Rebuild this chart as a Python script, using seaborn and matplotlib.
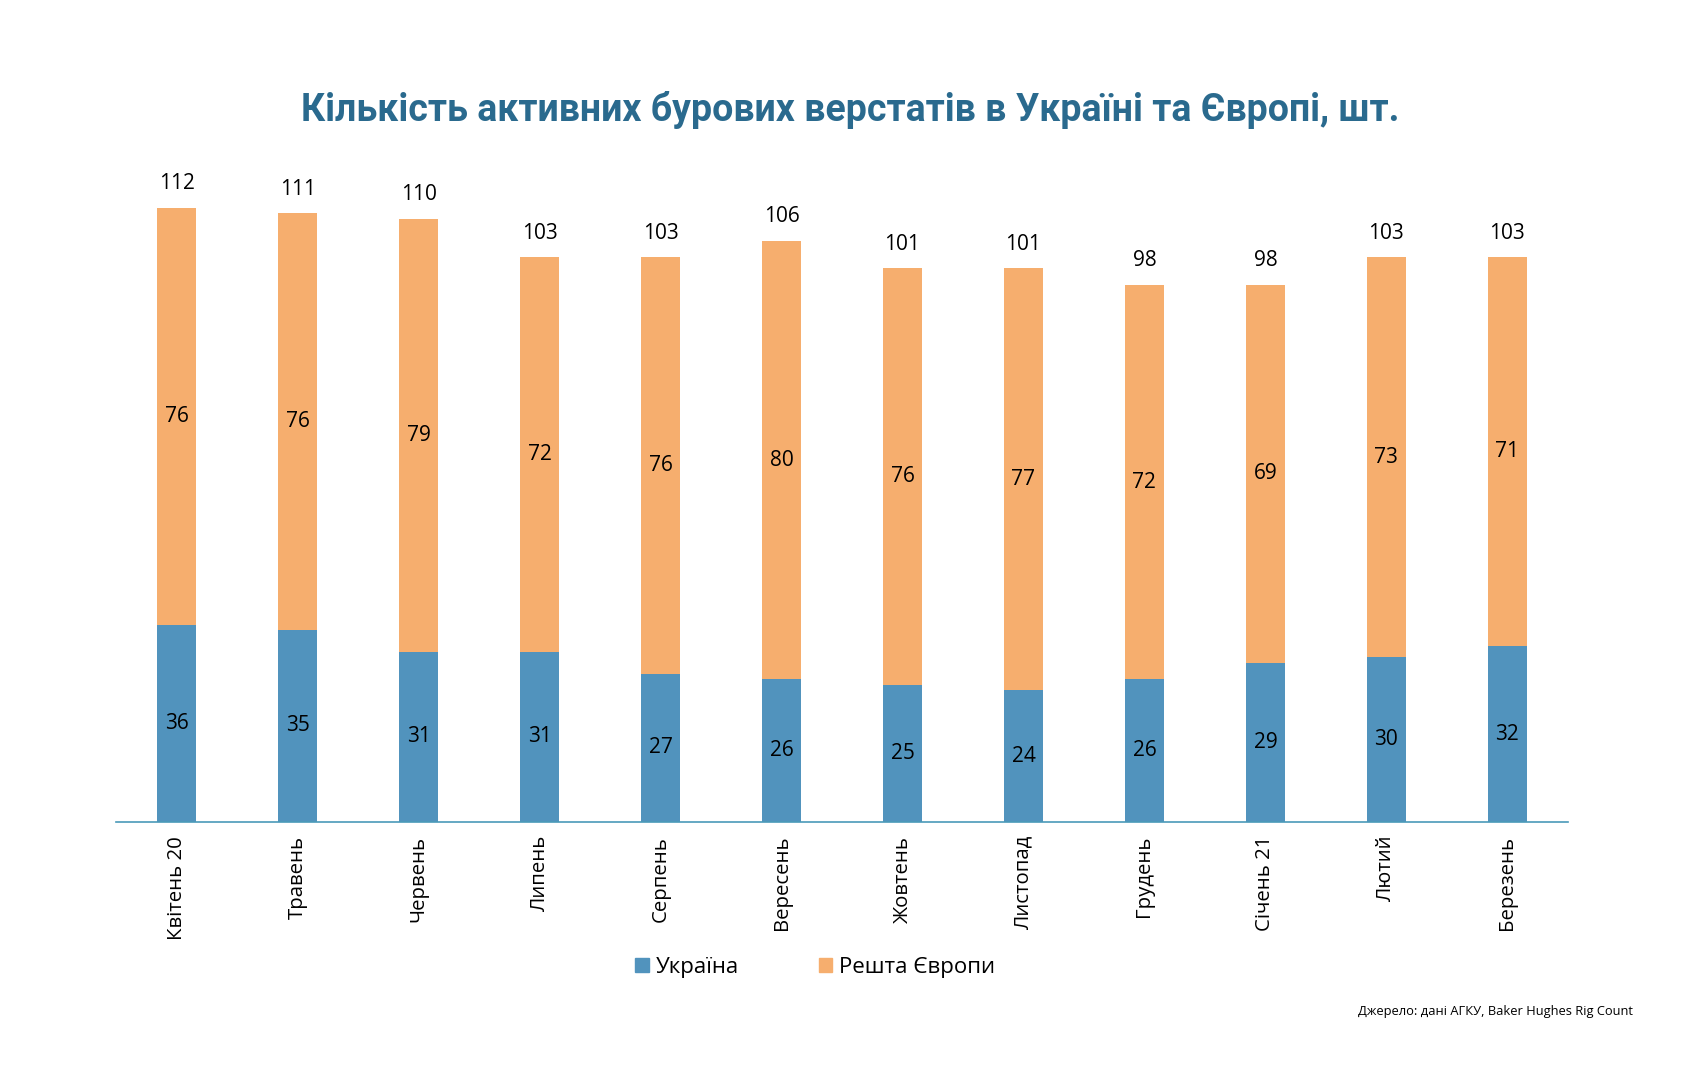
import pandas as pd
import seaborn as sns
import matplotlib.pyplot as plt
from matplotlib.patches import Patch

# DATA
months = ['Квітень 20', 'Травень', 'Червень', 'Липень', 'Серпень', 'Вересень',
          'Жовтень', 'Листопад', 'Грудень', 'Січень 21', 'Лютий', 'Березень']
ukraine = [36, 35, 31, 31, 27, 26, 25, 24, 26, 29, 30, 32]
rest_europe = [76, 76, 79, 72, 76, 80, 76, 77, 72, 69, 73, 71]
totals = [112, 111, 110, 103, 103, 106, 101, 101, 98, 98, 103, 103]

BLUE = '#5193bd'
ORANGE = '#f6ae6e'

df = pd.DataFrame({'month': months, 'ukraine': ukraine, 'rest': rest_europe, 'total': totals})

sns.set_style('white')
plt.rcParams['font.family'] = ['Open Sans', 'DejaVu Sans']
plt.rcParams['text.color'] = 'black'
plt.rcParams['xtick.color'] = 'black'

fig = plt.figure(figsize=(16.84, 10.8), dpi=100)
ax = fig.add_axes([0.069, 0.239, 0.862, 0.609])

# stacked: totals in orange, Ukraine drawn over them in blue
sns.barplot(data=df, x='month', y='total', color=ORANGE, width=0.32, saturation=1, linewidth=0, ax=ax)
sns.barplot(data=df, x='month', y='ukraine', color=BLUE, width=0.32, saturation=1, linewidth=0, ax=ax)

for i, row in df.iterrows():
    ax.text(i, row.ukraine / 2, str(row.ukraine), ha='center', va='center', fontsize=15)
    ax.text(i, row.ukraine + row.rest / 2, str(row.rest), ha='center', va='center', fontsize=15)
    ax.text(i, row.total + 2.5, str(row.total), ha='center', va='bottom', fontsize=15)

ax.set_xlim(-0.5, 11.5)
ax.set_ylim(0, 120)
ax.set_yticks([])
ax.set_xlabel('')
ax.set_ylabel('')
ax.tick_params(axis='x', labelrotation=90, labelsize=14.7, length=0, pad=10)
sns.despine(ax=ax, left=True)
ax.spines['bottom'].set_color('#4a9ab9')
ax.spines['bottom'].set_linewidth(1.2)

fig.text(0.505, 0.898, 'Кількість активних бурових верстатів в Україні та Європі, шт.',
         ha='center', va='center', fontsize=27, fontweight='bold', color='#2a6a8e',
         family=['Roboto', 'DejaVu Sans'])

handles = [Patch(color=BLUE, label='Україна'), Patch(color=ORANGE, label='Решта Європи')]
fig.legend(handles=handles, loc='center', bbox_to_anchor=(0.484, 0.104), ncol=2, frameon=False,
           fontsize=16, handlelength=0.6, handleheight=0.6, handletextpad=0.3, columnspacing=3.6)

fig.text(0.97, 0.063, 'Джерело: дані АГКУ, Baker Hughes Rig Count', ha='right', va='center', fontsize=9.3)

plt.savefig('out.png', dpi=100)
